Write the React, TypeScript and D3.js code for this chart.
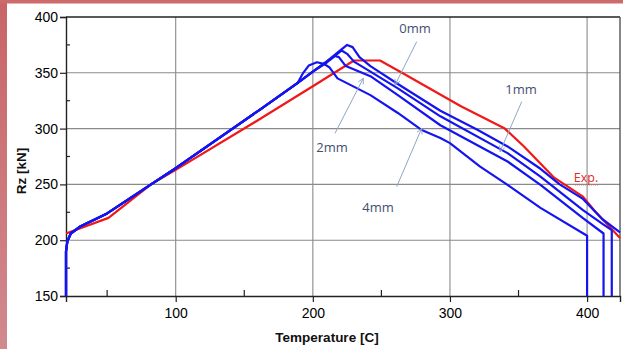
import React from 'react';
import * as d3 from 'd3';

// temperature [C] vs Rz [kN]
const riseBlue: [number, number][] = [
  [20, 150], [20, 190], [21, 199], [23.5, 206], [30, 212], [50, 224], [82, 250],
  [100, 264.5], [162, 317.5], [189, 341],
];
const fall0mm: [number, number][] = [
  [200, 351], [210, 360], [218, 368], [225, 375], [229, 373], [234, 364], [242, 356],
  [262, 340], [293, 316], [320, 299], [342, 284], [366, 264], [380, 250], [397, 237],
  [411, 219], [424, 207],
];
const fall1mm: [number, number][] = [
  [200, 351], [210, 360], [217, 366], [221, 370], [225, 367], [230, 360], [242, 351],
  [262, 336], [293, 311], [342, 278], [366, 257], [397, 227], [412, 214], [418, 209],
  [418, 150],
];
const fall2mm: [number, number][] = [
  [200, 351], [210, 359], [216, 365], [219, 364], [224, 356], [242, 347], [262, 330],
  [293, 303], [342, 270.5], [366, 249.6], [397, 219.7], [412, 206], [412, 150],
];
const fall4mm: [number, number][] = [
  [193, 350], [197, 356.5], [203, 359.5], [208, 358], [212, 355], [218, 345], [242, 330],
  [262, 314], [279, 299], [293, 291.5], [300, 287], [322, 266], [342, 249.6], [366, 229],
  [400, 204], [400, 150],
];
const expData: [number, number][] = [
  [20, 206], [51, 220], [82, 250], [100, 263], [162, 309], [200, 338], [230, 361],
  [249, 361], [265, 350], [308, 320], [340, 300], [354, 284], [376, 256], [397, 239],
  [405, 227], [424, 202],
];

const xTicks = [100, 200, 300, 400];
const xMinor = [50, 150, 250, 350];
const yTicks = [150, 200, 250, 300, 350, 400];
const yMinor = [175, 225, 275, 325, 375];

// label text, label anchor, arrow from, arrow to (pixel coords)
const notes = [
  { text: '0mm', at: [415, 33], from: [416.7, 41.7], to: [395, 85] },
  { text: '1mm', at: [521, 94], from: [521.7, 101.7], to: [500, 151.7] },
  { text: '2mm', at: [332, 152], from: [335, 133.3], to: [363.3, 78.3] },
  { text: '4mm', at: [378, 212], from: [396.7, 186.7], to: [421.7, 128.3] },
];

const W = 623;
const H = 349;

const App: React.FC = () => {
  const svgRef = React.useRef<SVGSVGElement>(null);

  React.useEffect(() => {
    if (!svgRef.current) return;
    const svg = d3.select(svgRef.current);
    svg.selectAll('*').remove();

    const left = 66, right = 620, top = 17, bottom = 296;
    const x = d3.scaleLinear().domain([20, 424]).range([left, right]);
    const y = d3.scaleLinear().domain([150, 400]).range([bottom, top]);

    // background + red frame
    const defs = svg.append('defs');
    const grad = defs.append('linearGradient').attr('id', 'edge').attr('x1', 0).attr('y1', 0).attr('x2', 0).attr('y2', 1);
    grad.append('stop').attr('offset', 0).attr('stop-color', '#c96466');
    grad.append('stop').attr('offset', 1).attr('stop-color', '#d08a8e');
    defs.append('marker')
      .attr('id', 'arr').attr('viewBox', '0 0 10 10').attr('refX', 9).attr('refY', 5)
      .attr('markerWidth', 7).attr('markerHeight', 7).attr('orient', 'auto')
      .append('path').attr('d', 'M1,1 L9,5 L1,9').attr('fill', 'none').attr('stroke', '#8ea6c6').attr('stroke-width', 1.2);

    svg.append('rect').attr('width', W).attr('height', H).attr('fill', '#ffffff');
    svg.append('rect').attr('width', 7).attr('height', H).attr('fill', 'url(#edge)');
    svg.append('rect').attr('width', W).attr('height', 3.5).attr('fill', '#cd6b6c');

    // grid
    const grid = svg.append('g').attr('stroke', '#8a8a8a').attr('stroke-width', 1.1);
    grid.selectAll('.gx').data(xTicks).enter().append('line')
      .attr('x1', d => x(d)).attr('x2', d => x(d)).attr('y1', top).attr('y2', bottom);
    grid.selectAll('.gy').data(yTicks.slice(1, -1)).enter().append('line')
      .attr('x1', left).attr('x2', right).attr('y1', d => y(d)).attr('y2', d => y(d));

    // axes
    const font = '"Liberation Sans", Arial, sans-serif';
    const yAxis = svg.append('g').attr('transform', `translate(${left},0)`)
      .call(d3.axisLeft(y).tickValues(yTicks).tickSize(6).tickFormat(d3.format('d')));
    yAxis.selectAll('text').attr('font-family', font).attr('font-size', 14).attr('fill', '#000').attr('x', -8);
    const xAxis = svg.append('g').attr('transform', `translate(0,${bottom})`)
      .call(d3.axisBottom(x).tickValues(xTicks).tickSize(6).tickFormat(d3.format('d')));
    xAxis.selectAll('text').attr('font-family', font).attr('font-size', 14).attr('fill', '#000').attr('y', 12);
    svg.selectAll('.domain').attr('stroke', '#222').attr('stroke-width', 1.4);
    svg.selectAll('.tick line').attr('stroke', '#222').attr('stroke-width', 1.2);

    const ticks = svg.append('g').attr('stroke', '#222').attr('stroke-width', 1.2);
    ticks.selectAll('.mx').data(xMinor).enter().append('line')
      .attr('x1', d => x(d)).attr('x2', d => x(d)).attr('y1', bottom).attr('y2', bottom - 6);
    ticks.selectAll('.my').data(yMinor).enter().append('line')
      .attr('x1', left).attr('x2', left + 4).attr('y1', d => y(d)).attr('y2', d => y(d));
    // top and right frame
    ticks.append('line').attr('x1', left).attr('x2', right).attr('y1', top).attr('y2', top).attr('stroke-width', 1.4);
    ticks.append('line').attr('x1', right).attr('x2', right).attr('y1', top).attr('y2', bottom).attr('stroke', '#555').attr('stroke-width', 1.4);

    // axis titles
    svg.append('text').attr('x', 327).attr('y', 342).attr('text-anchor', 'middle')
      .attr('font-family', font).attr('font-size', 13.5).attr('font-weight', 'bold').attr('fill', '#111')
      .text('Temperature [C]');
    svg.append('text').attr('transform', 'translate(26,171) rotate(-90)').attr('text-anchor', 'middle')
      .attr('font-family', font).attr('font-size', 13.5).attr('font-weight', 'bold').attr('fill', '#111')
      .text('Rz [kN]');

    // curves
    const line = d3.line<[number, number]>().x(d => x(d[0])).y(d => y(d[1]));
    const plot = svg.append('g').attr('fill', 'none').attr('stroke-linejoin', 'round');
    plot.append('path').attr('d', line(expData)).attr('stroke', '#f01818').attr('stroke-width', 2.2);
    [fall4mm, fall2mm, fall1mm, fall0mm].forEach(s => {
      plot.append('path').attr('d', line(riseBlue.concat(s))).attr('stroke', '#1414f0').attr('stroke-width', 2.2);
    });

    // annotations (pixel coords)
    const ann = svg.append('g');
    notes.forEach(n => {
      ann.append('line').attr('x1', n.from[0]).attr('y1', n.from[1]).attr('x2', n.to[0]).attr('y2', n.to[1])
        .attr('stroke', '#8ea6c6').attr('stroke-width', 1).attr('marker-end', 'url(#arr)');
      ann.append('text').attr('x', n.at[0]).attr('y', n.at[1]).attr('text-anchor', 'middle')
        .attr('font-family', '"Open Sans", sans-serif').attr('font-size', 13).attr('fill', '#3f5070')
        .text(n.text);
    });
    ann.append('text').attr('x', 586).attr('y', 182).attr('text-anchor', 'middle')
      .attr('font-family', '"Open Sans", sans-serif').attr('font-size', 12.5).attr('fill', '#e02a2a')
      .text('Exp.');
    ann.append('line').attr('x1', 575).attr('x2', 598).attr('y1', 185).attr('y2', 185)
      .attr('stroke', '#e06060').attr('stroke-width', 0.8).attr('stroke-dasharray', '1,1');
  }, []);

  return (
    <svg ref={svgRef} width={W} height={H} style={{ position: 'absolute', left: 0, top: 0, display: 'block' }} />
  );
};

export default App;
